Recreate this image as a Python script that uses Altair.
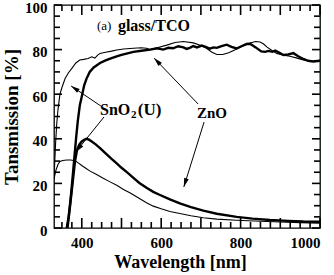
import math
import altair as alt
import pandas as pd

# ---- measured traces (wavelength in nm, value in %) ----
sno2_t_wl = [330, 332, 334, 337, 340, 345, 350, 358, 366, 375, 385, 395, 405, 416, 425,
             433, 440, 446, 460, 475, 488, 505, 530, 550, 563, 572, 590, 614, 635, 656,
             681, 700, 714, 728, 740, 755, 770, 785, 799, 812, 824, 838, 849, 858, 866,
             880, 891, 908, 924, 940, 958, 970, 983, 1000]
sno2_t = [22, 30, 38, 47, 53, 60, 63, 67, 69.5, 71.6, 74, 75.3, 75.6, 76, 76.8,
          76.2, 77.5, 78.3, 78.8, 79.3, 79.8, 80.3, 80.6, 80.8, 80.6, 80.0, 80.8, 82.0, 83.2, 83.6,
          83.0, 81.8, 80.6, 78.8, 77.8, 77.8, 78.6, 79.8, 81.0, 82.2, 83.0, 83.6, 83.4, 82.5, 81.2,
          79.5, 78.3, 77.5, 77.0, 76.3, 75.4, 75.0, 74.7, 75.2]

zno_t_wl = [362, 366, 370, 374, 378, 382, 386, 390, 395, 400, 406, 412, 420, 430, 446,
            460, 475, 488, 500, 515, 530, 550, 572, 590, 605, 618, 630, 643, 656, 664,
            672, 681, 690, 702, 712, 722, 732, 740, 752, 765, 777, 790, 802, 815, 824,
            838, 852, 862, 870, 880, 887, 898, 908, 920, 933, 945, 958, 970, 983, 1000]
zno_t = [0, 4, 10, 17, 25, 33, 41, 48, 55, 59, 64, 67, 70, 72, 74,
         75.2, 76.2, 77, 77.6, 78.3, 79, 79.5, 80.0, 80.6, 80.0, 80.8, 80.6, 81.5, 81.0, 80.3,
         80.8, 81.6, 81.0, 81.8, 81.2, 80.4, 81.0, 80.8, 81.6, 82.2, 81.2, 80.5, 81.5, 82.5, 82.6,
         81.0, 79.2, 79.0, 79.4, 79.0, 79.6, 78.6, 77.6, 77.8, 78.4, 77.0, 75.8, 75.0, 74.7, 75.0]

sno2_low_wl = [330, 335, 340, 345, 352, 362, 372, 383, 391, 400, 410, 421, 435, 454, 470,
               488, 505, 521, 540, 563, 580, 600, 622, 647, 675, 706, 740, 790, 850, 900,
               950, 1000]
sno2_low = [22, 26, 28.5, 29.8, 30.3, 30.5, 30.5, 30.2, 29.2, 28, 26.8, 25.5, 24.2, 22.3, 20.8,
            19.2, 17.3, 15.8, 13.8, 11.3, 9.8, 8.6, 7.4, 6.5, 5.5, 4.6, 4.0, 3.5, 3.0, 2.7,
            2.4, 2.2]

zno_low_wl = [364, 368, 373, 378, 383, 388, 394, 400, 406, 412, 418, 425, 435, 446, 460,
              475, 488, 500, 515, 530, 545, 563, 580, 597, 622, 647, 675, 706, 740, 790,
              830, 874, 920, 958, 1000]
zno_low = [0, 6, 14, 22, 30, 35, 37.5, 38.8, 39.6, 40, 39.6, 38.8, 37.5, 35.8, 33.5,
           31, 29, 27, 24.8, 22.5, 20.2, 18, 16.2, 14.8, 12.8, 11, 9.4, 7.8, 6.4, 5.0,
           4.2, 3.6, 3.2, 2.9, 2.8]

# ---- axis ticks ----
x_label_values = [400, 600, 800, 1000]
y_label_values = [0, 20, 40, 60, 80, 100]
x_tick_values = list(range(350, 1001, 25))
y_tick_values = list(range(0, 101, 5))

# ---- annotations (data coordinates) ----
ann_bold_x = [491, 446, 541, 690]
ann_bold_y = [90.6, 52.9, 52.9, 51.6]
ann_bold_text = ["glass/TCO", "SnO", "(U)", "ZnO"]
ann_bold_size = [16, 16, 17, 15]

arrow_x = [448, 456, 693, 708]
arrow_y = [54.7, 49.8, 55.6, 47.5]
arrow_tip_x = [373, 385, 582, 657]
arrow_tip_y = [63.7, 34.1, 76.2, 18.4]

X_DOMAIN = [330, 1000]
Y_DOMAIN = [0, 100]
W, H = 266, 223
FONT = "Liberation Serif"
X_PER_PX = (X_DOMAIN[1] - X_DOMAIN[0]) / W
Y_PER_PX = (Y_DOMAIN[1] - Y_DOMAIN[0]) / H


def trace(name, wl, val):
    return pd.DataFrame({"wl": wl, "val": val, "trace": name})


thin_df = pd.concat([trace("SnO2 T", sno2_t_wl, sno2_t),
                     trace("SnO2 low", sno2_low_wl, sno2_low)])
thick_df = pd.concat([trace("ZnO T", zno_t_wl, zno_t),
                      trace("ZnO low", zno_low_wl, zno_low)])

xs = alt.Scale(domain=X_DOMAIN, nice=False, zero=False)
ys = alt.Scale(domain=Y_DOMAIN, nice=False)

x_axis = alt.Axis(values=x_label_values, format="d", title="Wavelength [nm]", grid=False,
                  domain=False, ticks=False, tickSize=0, labelFont=FONT,
                  labelFontWeight="bold", labelFontSize=15, labelPadding=7,
                  labelColor="black", titleFont=FONT, titleFontWeight="bold",
                  titleFontSize=18, titlePadding=3, titleColor="black", titleX=126)
y_axis = alt.Axis(values=y_label_values, format="d", title="Tansmission [%]", grid=False,
                  domain=False, ticks=False, tickSize=0, labelFont=FONT,
                  labelFontWeight="bold", labelFontSize=15, labelPadding=7, labelOffset=2,
                  labelColor="black", titleFont=FONT, titleFontWeight="bold",
                  titleFontSize=19, titlePadding=3, titleColor="black")

thin = alt.Chart(thin_df).mark_line(color="black", strokeWidth=1.1, clip=True).encode(
    x=alt.X("wl:Q", scale=xs, axis=x_axis),
    y=alt.Y("val:Q", scale=ys, axis=y_axis),
    detail="trace:N",
)
thick = alt.Chart(thick_df).mark_line(color="black", strokeWidth=2.4, clip=True).encode(
    x=alt.X("wl:Q", scale=xs),
    y=alt.Y("val:Q", scale=ys),
    detail="trace:N",
)

# arrow shafts
shaft_df = pd.DataFrame({"x": arrow_x, "y": arrow_y, "tx": arrow_tip_x, "ty": arrow_tip_y})
shafts = alt.Chart(shaft_df).mark_rule(color="black", strokeWidth=1).encode(
    x=alt.X("x:Q", scale=xs), y=alt.Y("y:Q", scale=ys),
    x2="tx:Q", y2="ty:Q")

# inward ticks on all four sides, lengths converted to data units
tick_rows = []
for v in x_tick_values:
    n = (10 if v % 100 == 0 else 6) * Y_PER_PX
    tick_rows.append({"a": v, "b": Y_DOMAIN[0], "a2": v, "b2": Y_DOMAIN[0] + n})
    tick_rows.append({"a": v, "b": Y_DOMAIN[1], "a2": v, "b2": Y_DOMAIN[1] - n})
for v in y_tick_values:
    n = (8 if v % 20 == 0 else 6) * X_PER_PX
    tick_rows.append({"a": X_DOMAIN[0], "b": v, "a2": X_DOMAIN[0] + n, "b2": v})
    tick_rows.append({"a": X_DOMAIN[1], "b": v, "a2": X_DOMAIN[1] - n, "b2": v})
tick_df = pd.DataFrame(tick_rows).astype(float)
ticks = alt.Chart(tick_df).mark_rule(color="#000000", strokeWidth=1.6, opacity=1).encode(
    x=alt.X("a:Q", scale=xs), y=alt.Y("b:Q", scale=ys),
    x2="a2:Q", y2="b2:Q")

# labels
bold_df = pd.DataFrame({"x": ann_bold_x, "y": ann_bold_y, "t": ann_bold_text, "s": ann_bold_size})
bold_text = alt.Chart(bold_df).mark_text(font=FONT, fontWeight="bold", align="left",
                                         baseline="middle", color="black").encode(
    x=alt.X("x:Q", scale=xs), y=alt.Y("y:Q", scale=ys), text="t:N",
    size=alt.Size("s:Q", scale=None))
panel_tag = alt.Chart(pd.DataFrame({"x": [438], "y": [90.6], "t": ["(a)"]})).mark_text(
    font=FONT, fontSize=13, align="left", baseline="middle", color="black").encode(
    x=alt.X("x:Q", scale=xs), y=alt.Y("y:Q", scale=ys), text="t:N")
subscript = alt.Chart(pd.DataFrame({"x": [524], "y": [50.6], "t": ["2"]})).mark_text(
    font=FONT, fontWeight="bold", fontSize=11, align="left", baseline="middle",
    color="black").encode(
    x=alt.X("x:Q", scale=xs), y=alt.Y("y:Q", scale=ys), text="t:N")

# filled arrowheads at the tips
arr = shaft_df.copy()


def heading(r):
    dx = (r.tx - r.x) / X_PER_PX
    dy = -(r.ty - r.y) / Y_PER_PX
    return math.degrees(math.atan2(dx, -dy)) % 360


arr["ang"] = arr.apply(heading, axis=1)
heads = alt.Chart(arr).mark_point(
    shape="M0,0 L0.6,2.2 L-0.6,2.2 Z", filled=True, color="black", opacity=1,
    size=64, strokeWidth=0).encode(
    x=alt.X("tx:Q", scale=xs), y=alt.Y("ty:Q", scale=ys),
    angle=alt.Angle("ang:Q", scale=None))

chart = alt.layer(thin, thick, shafts, heads, bold_text, panel_tag, subscript, ticks).properties(
    width=W, height=H,
    autosize=alt.AutoSizeParams(type="none"),
    padding={"left": 54, "top": 5, "right": 14, "bottom": 47},
    background="white",
).configure_view(stroke="black", strokeWidth=1.3)

chart.save("out.html", embed_options={"renderer": "svg", "actions": False})
